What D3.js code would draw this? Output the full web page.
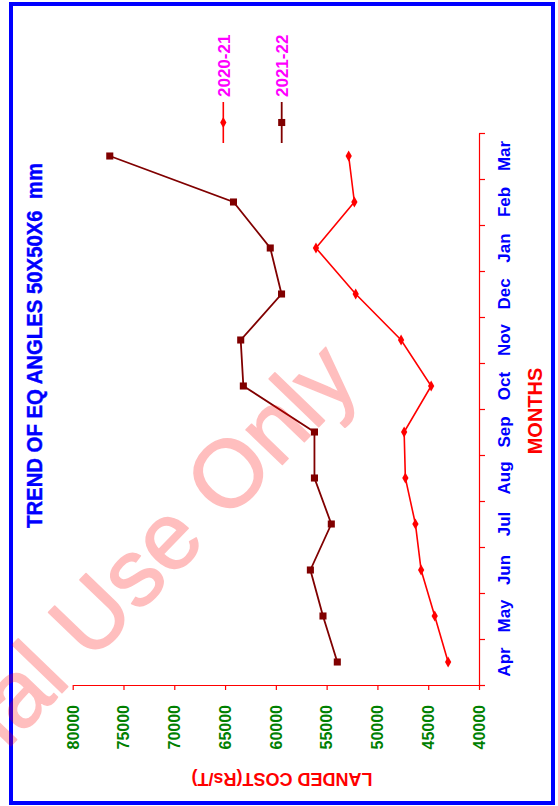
<!DOCTYPE html>
<html>
<head>
<meta charset="utf-8">
<script src="https://cdn.jsdelivr.net/npm/d3@7"></script>
<style>
  html, body { margin: 0; padding: 0; background: #fff; }
  svg { display: block; font-family: "Liberation Sans", Arial, sans-serif; }
</style>
</head>
<body>
<svg id="chart" width="558" height="806"></svg>
<script>
const months = ["Apr","May","Jun","Jul","Aug","Sep","Oct","Nov","Dec","Jan","Feb","Mar"];
const series2020 = [43040, 44360, 45700, 46260, 47250, 47370, 44710, 47670, 52140, 56050, 52270, 52830];
const series2021 = [53950, 55360, 56600, 54540, 56200, 56200, 63200, 63460, 59440, 60550, 64170, 76350];
const valueTicks = [80000, 75000, 70000, 65000, 60000, 55000, 50000, 45000, 40000];
const seriesNames = ["2020-21", "2021-22"];
const title = "TREND OF EQ ANGLES 50X50X6  mm";
const valueTitle = "LANDED COST(Rs/T)";
const monthTitle = "MONTHS";
const watermark = "Internal Use Only";

const svg = d3.select("#chart");

// scales (chart is rotated: values run horizontally, months vertically)
const x = d3.scaleLinear().domain([80000, 40000]).range([72.7, 479]);
const yIdx = d3.scaleLinear().domain([0, 12]).range([685, 133]);
const y = d3.scaleBand().domain(months).range([685, 133]);
const yc = m => y(m) + y.bandwidth() / 2;

// border
svg.append("rect").attr("x", 11).attr("y", 4).attr("width", 542).attr("height", 799)
  .attr("fill", "none").attr("stroke", "#0000ff").attr("stroke-width", 4);

// value axis (bottom)
const gx = svg.append("g").attr("transform", "translate(0,685)")
  .call(d3.axisBottom(x).tickValues(valueTicks).tickSize(5).tickSizeOuter(0).tickFormat(""));
gx.selectAll("path, line").attr("stroke", "#ff0000").attr("stroke-width", 1.2);

// month axis (right)
const gy = svg.append("g").attr("transform", "translate(479,0)")
  .call(d3.axisRight(yIdx).tickValues(d3.range(0, 13)).tickSize(6).tickSizeOuter(0).tickFormat(""));
gy.selectAll("path, line").attr("stroke", "#ff0000").attr("stroke-width", 1.2);

// value tick labels
svg.append("g").selectAll("text").data(valueTicks).join("text")
  .attr("transform", d => `translate(${x(d) + 5.8},705) rotate(-90)`)
  .attr("text-anchor", "end")
  .attr("fill", "#008000").attr("font-weight", "bold").attr("font-size", 16)
  .text(d => d);

// month labels
svg.append("g").selectAll("text").data(months).join("text")
  .attr("transform", d => `translate(510,${yc(d)}) rotate(-90)`)
  .attr("text-anchor", "middle")
  .attr("fill", "#0000ff").attr("font-weight", "bold").attr("font-size", 17)
  .text(d => d);

// axis titles
svg.append("text").attr("transform", "translate(282,773) rotate(180)")
  .attr("text-anchor", "middle").attr("fill", "#ff0000")
  .attr("font-weight", "bold").attr("font-size", 18).text(valueTitle);

svg.append("text").attr("transform", "translate(542,411) rotate(-90)")
  .attr("text-anchor", "middle").attr("fill", "#ff0000")
  .attr("font-weight", "bold").attr("font-size", 20).text(monthTitle);

// chart title
svg.append("text").attr("transform", "translate(41.5,528) rotate(-90)")
  .attr("text-anchor", "start").attr("fill", "#0000ff")
  .attr("font-weight", "bold").attr("font-size", 22)
  .attr("stroke", "#0000ff").attr("stroke-width", 0.4)
  .attr("textLength", 365).attr("lengthAdjust", "spacingAndGlyphs")
  .attr("xml:space", "preserve")
  .text(title);

// lines
const line = d3.line().x(d => x(d.v)).y(d => yc(d.m));
const data2020 = months.map((m, i) => ({ m, v: series2020[i] }));
const data2021 = months.map((m, i) => ({ m, v: series2021[i] }));

const diamond = d3.symbol().type(d3.symbolDiamond).size(34);
const square = d3.symbol().type(d3.symbolSquare).size(50);

svg.append("path").datum(data2020).attr("d", line)
  .attr("fill", "none").attr("stroke", "#ff0000").attr("stroke-width", 1.6);
svg.append("g").selectAll("path").data(data2020).join("path")
  .attr("d", diamond).attr("transform", d => `translate(${x(d.v)},${yc(d.m)})`)
  .attr("fill", "#ff0000");

svg.append("path").datum(data2021).attr("d", line)
  .attr("fill", "none").attr("stroke", "#800000").attr("stroke-width", 1.8);
svg.append("g").selectAll("path").data(data2021).join("path")
  .attr("d", square).attr("transform", d => `translate(${x(d.v)},${yc(d.m)})`)
  .attr("fill", "#800000");

// legend
const legend = [
  { name: seriesNames[0], x: 223.3, color: "#ff0000", sym: diamond, w: 1.6 },
  { name: seriesNames[1], x: 281.7, color: "#800000", sym: square, w: 1.8 }
];
const lg = svg.append("g");
legend.forEach(l => {
  lg.append("line").attr("x1", l.x).attr("x2", l.x).attr("y1", 102).attr("y2", 143)
    .attr("stroke", l.color).attr("stroke-width", l.w);
  lg.append("path").attr("d", l.sym).attr("transform", `translate(${l.x},122.5)`).attr("fill", l.color);
  lg.append("text").attr("transform", `translate(${l.x + 6.5},97) rotate(-90)`)
    .attr("text-anchor", "start").attr("fill", "#ff00ff")
    .attr("font-weight", "bold").attr("font-size", 17).text(l.name);
});

// watermark (semi-transparent, cut by the page edge as in the reference)
svg.append("g").attr("opacity", 0.25)
  .append("text").attr("transform", "translate(362,382) rotate(-46)")
  .attr("text-anchor", "end").attr("fill", "#ff0000")
  .attr("stroke", "#ff0000").attr("stroke-width", 1.5).attr("stroke-linejoin", "round")
  .attr("font-size", 95).text(watermark);
</script>
</body>
</html>
